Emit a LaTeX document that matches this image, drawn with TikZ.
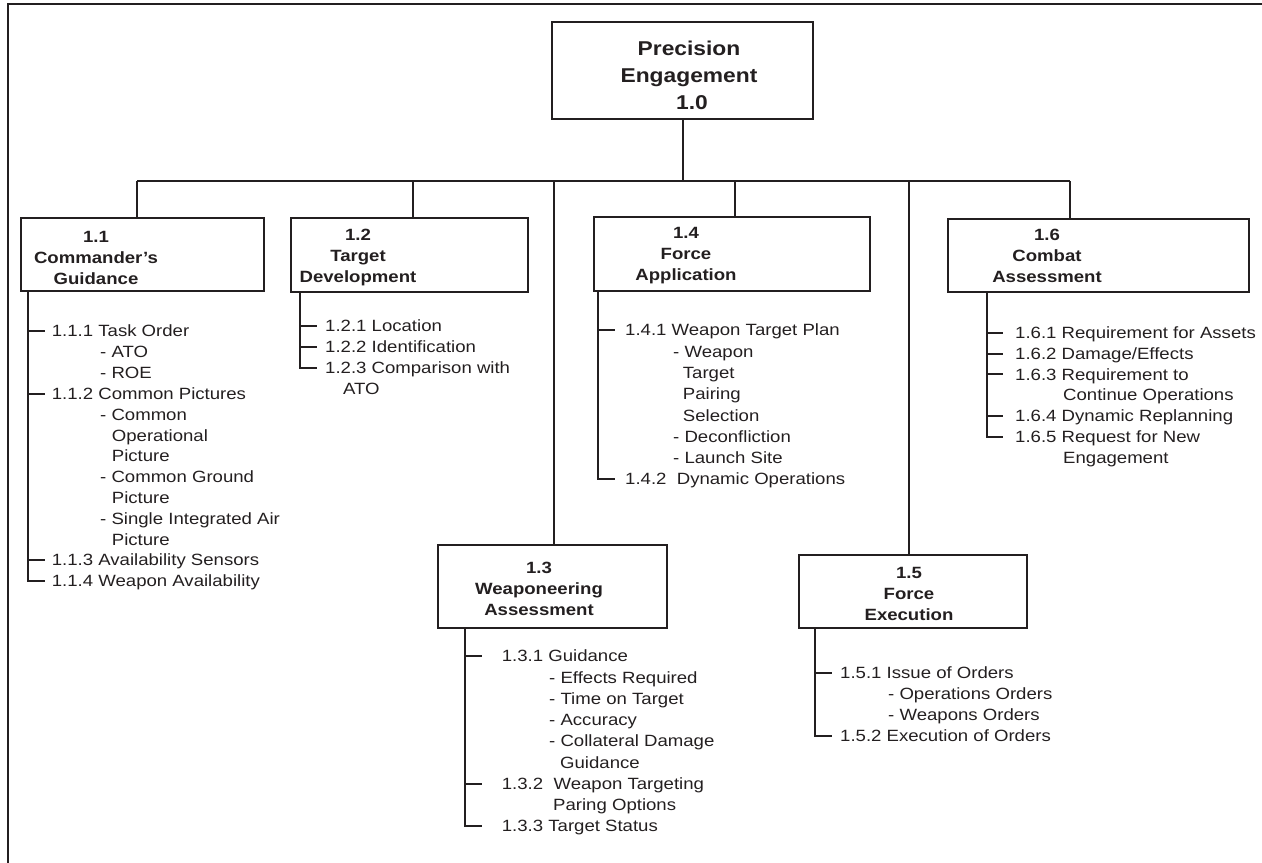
\documentclass[tikz,border=0pt]{standalone}
\usepackage{fontspec}
\setmainfont{Liberation Sans}[FakeStretch=1.14]
\definecolor{ink}{HTML}{231F20}
\begin{document}
\begin{tikzpicture}[x=1bp,y=-1bp,
  rule/.style={draw=ink, line width=2bp},
  box/.style={rule, rectangle, inner sep=0pt},
  head/.style={font=\bfseries\fontsize{16.3bp}{21bp}\selectfont, align=center, inner sep=0pt, text=ink},
  item/.style={font=\fontsize{16.3bp}{20bp}\selectfont, anchor=west, inner sep=0pt,
               text height=11.7bp, text depth=0pt, text=ink},
]
\useasboundingbox (0,0) rectangle (1262,863);

% frame edges
\coordinate (fa) at (1262,4);
\coordinate (fb) at (8,4);
\coordinate (fc) at (8,863);
\draw[rule] (fa) -- (fb) -- (fc);

% top box
\node[box, minimum width=261bp, minimum height=97bp] (top) at (682.5,70.5) {};
\node[head, font=\bfseries\fontsize{20bp}{27bp}\selectfont] (toplbl) at (689,75.5)
  {Precision\\Engagement\\\hspace*{6bp}1.0};

% second level boxes
\node[box, minimum width=243bp, minimum height=73bp] (b11) at (142.5,254.5) {};
\node[box, minimum width=237bp, minimum height=74bp] (b12) at (409.5,255) {};
\node[box, minimum width=229bp, minimum height=83bp] (b13) at (552.5,586.5) {};
\node[box, minimum width=276bp, minimum height=74bp] (b14) at (732,254) {};
\node[box, minimum width=228bp, minimum height=73bp] (b15) at (913,591.5) {};
\node[box, minimum width=301bp, minimum height=73bp] (b16) at (1098.5,255.5) {};

\node[head] (h11) at (96,258) {1.1\\Commander’s\\Guidance};
\node[head] (h12) at (358,257) {1.2\\Target\\Development};
\node[head] (h13) at (539,589) {1.3\\Weaponeering\\Assessment};
\node[head] (h14) at (686,256) {1.4\\Force\\Application};
\node[head] (h15) at (909,594) {1.5\\Force\\Execution};
\node[head] (h16) at (1047,256) {1.6\\Combat\\Assessment};

% bus joints
\coordinate (j1) at (137,181);
\coordinate (j2) at (413,181);
\coordinate (j3) at (554,181);
\coordinate (j4) at (735,181);
\coordinate (j5) at (909,181);
\coordinate (j6) at (1070,181);

\draw[rule] (top.south) -- (top.south |- j1);
\draw[rule] (j1) -- (j6);
\draw[rule] (j1) -- (j1 |- b11.north);
\draw[rule] (j2) -- (j2 |- b12.north);
\draw[rule] (j3) -- (j3 |- b13.north);
\draw[rule] (j4) -- (j4 |- b14.north);
\draw[rule] (j5) -- (j5 |- b15.north);
\draw[rule] (j6) -- (j6 |- b16.north);

% ---- 1.1 items
\node[item] (a1)  at (51.7,331)   {1.1.1 Task Order};
\node[item] (a2)  at (100,351.8)  {- ATO};
\node[item] (a3)  at (100,372.7)  {- ROE};
\node[item] (a4)  at (51.7,393.5) {1.1.2 Common Pictures};
\node[item] (a5)  at (100,414.3)  {- Common};
\node[item] (a6)  at (111.7,435.2){Operational};
\node[item] (a7)  at (111.7,456)  {Picture};
\node[item] (a8)  at (100,476.8)  {- Common Ground};
\node[item] (a9)  at (111.7,497.6){Picture};
\node[item] (a10) at (100,518.5)  {- Single Integrated Air};
\node[item] (a11) at (111.7,539.3){Picture};
\node[item] (a12) at (51.7,560.1) {1.1.3 Availability Sensors};
\node[item] (a13) at (51.7,581)   {1.1.4 Weapon Availability};
\coordinate (t1) at (28,0);
\draw[rule] (b11.south -| t1) -- (t1 |- a13) -- ++(17,0);
\foreach \n in {a1,a4,a12} \draw[rule] (t1 |- \n) -- ++(17,0);

% ---- 1.2 items
\node[item] (c1) at (325,326) {1.2.1 Location};
\node[item] (c2) at (325,347) {1.2.2 Identification};
\node[item] (c3) at (325,368) {1.2.3 Comparison with};
\node[item] (c4) at (343,389) {ATO};
\coordinate (t2) at (300,0);
\draw[rule] (b12.south -| t2) -- (t2 |- c3) -- ++(17,0);
\foreach \n in {c1,c2} \draw[rule] (t2 |- \n) -- ++(17,0);

% ---- 1.3 items
\node[item] (d1) at (501.7,656)   {1.3.1 Guidance};
\node[item] (d2) at (549,677.3)   {- Effects Required};
\node[item] (d3) at (549,698.5)   {- Time on Target};
\node[item] (d4) at (549,719.8)   {- Accuracy};
\node[item] (d5) at (549,741)     {- Collateral Damage};
\node[item] (d6) at (560,762.3)   {Guidance};
\node[item] (d7) at (501.7,783.5) {1.3.2\ \ Weapon Targeting};
\node[item] (d8) at (553,804.8)   {Paring Options};
\node[item] (d9) at (501.7,826)   {1.3.3 Target Status};
\coordinate (t3) at (465,0);
\draw[rule] (b13.south -| t3) -- (t3 |- d9) -- ++(17,0);
\foreach \n in {d1,d7} \draw[rule] (t3 |- \n) -- ++(17,0);

% ---- 1.4 items
\node[item] (e1) at (625,330)   {1.4.1 Weapon Target Plan};
\node[item] (e2) at (673,351.3) {- Weapon};
\node[item] (e3) at (682.7,372.6) {Target};
\node[item] (e4) at (682.7,393.9) {Pairing};
\node[item] (e5) at (682.7,415.2) {Selection};
\node[item] (e6) at (673,436.5) {- Deconfliction};
\node[item] (e7) at (673,457.8) {- Launch Site};
\node[item] (e8) at (625,479.1) {1.4.2\ \ Dynamic Operations};
\coordinate (t4) at (598,0);
\draw[rule] (b14.south -| t4) -- (t4 |- e8) -- ++(17,0);
\draw[rule] (t4 |- e1) -- ++(17,0);

% ---- 1.5 items
\node[item] (f1) at (840,673) {1.5.1 Issue of Orders};
\node[item] (f2) at (888,694) {- Operations Orders};
\node[item] (f3) at (888,715) {- Weapons Orders};
\node[item] (f4) at (840,736) {1.5.2 Execution of Orders};
\coordinate (t5) at (815,0);
\draw[rule] (b15.south -| t5) -- (t5 |- f4) -- ++(17,0);
\draw[rule] (t5 |- f1) -- ++(17,0);

% ---- 1.6 items
\node[item] (g1) at (1015,333)   {1.6.1 Requirement for Assets};
\node[item] (g2) at (1015,353.7) {1.6.2 Damage/Effects};
\node[item] (g3) at (1015,374.4) {1.6.3 Requirement to};
\node[item] (g4) at (1063,395.1) {Continue Operations};
\node[item] (g5) at (1015,415.8) {1.6.4 Dynamic Replanning};
\node[item] (g6) at (1015,436.5) {1.6.5 Request for New};
\node[item] (g7) at (1063,457.2) {Engagement};
\coordinate (t6) at (987,0);
\draw[rule] (b16.south -| t6) -- (t6 |- g6) -- ++(16,0);
\foreach \n in {g1,g2,g3,g5} \draw[rule] (t6 |- \n) -- ++(16,0);
\end{tikzpicture}
\end{document}
